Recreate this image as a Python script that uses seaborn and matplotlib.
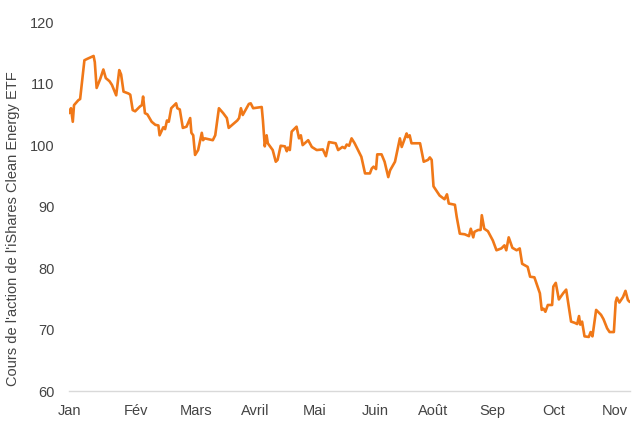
import numpy as np
import pandas as pd
import matplotlib
matplotlib.use("Agg")
import matplotlib.pyplot as plt
import seaborn as sns

# --- Data ---
# position in months from the start of January, closing price in USD
MONTH_POS = [
    0.00, 0.03, 0.06, 0.08, 0.15, 0.18, 0.25, 0.29, 0.40, 0.42, 0.45, 0.51, 0.56, 0.60,
    0.66, 0.70, 0.77, 0.82, 0.85, 0.89, 0.97, 1.00, 1.04, 1.08, 1.16, 1.19, 1.21, 1.24,
    1.28, 1.35, 1.41, 1.46, 1.48, 1.54, 1.57, 1.60, 1.63, 1.67, 1.75, 1.77, 1.81, 1.86,
    1.92, 1.98, 2.00, 2.03, 2.06, 2.11, 2.14, 2.17, 2.19, 2.22, 2.35, 2.39, 2.45, 2.52,
    2.58, 2.61, 2.75, 2.78, 2.81, 2.84, 2.94, 2.97, 3.01, 3.15, 3.17, 3.20, 3.23, 3.25,
    3.33, 3.38, 3.41, 3.46, 3.53, 3.56, 3.58, 3.61, 3.64, 3.72, 3.76, 3.79, 3.82, 3.91,
    3.97, 4.05, 4.15, 4.20, 4.25, 4.36, 4.40, 4.47, 4.51, 4.54, 4.58, 4.62, 4.67, 4.75,
    4.78, 4.84, 4.92, 4.95, 4.98, 5.02, 5.04, 5.11, 5.16, 5.22, 5.25, 5.33, 5.38, 5.41,
    5.44, 5.52, 5.54, 5.57, 5.60, 5.74, 5.80, 5.87, 5.90, 5.93, 5.96, 6.02, 6.06, 6.14,
    6.18, 6.21, 6.31, 6.34, 6.39, 6.47, 6.54, 6.57, 6.61, 6.63, 6.69, 6.73, 6.75, 6.79,
    6.85, 6.93, 6.99, 7.07, 7.12, 7.15, 7.19, 7.25, 7.32, 7.37, 7.41, 7.50, 7.54, 7.61,
    7.70, 7.73, 7.76, 7.79, 7.83, 7.90, 7.92, 7.96, 8.01, 8.08, 8.13, 8.21, 8.27, 8.31,
    8.34, 8.36, 8.39, 8.43, 8.50, 8.53, 8.56, 8.62, 8.70, 8.74, 8.80, 8.84, 8.91, 8.94,
    8.96, 9.00, 9.06, 9.10, 9.14, 9.17,
]
PRICE = [
    105.2, 106.0, 103.8, 106.5, 107.3, 107.5, 113.8, 114.0, 114.5, 113.5, 109.3, 110.8, 112.3, 110.9,
    110.4, 109.8, 108.1, 112.2, 111.5, 108.7, 108.4, 108.2, 105.7, 105.5, 106.3, 106.5, 107.9, 105.2,
    105.0, 103.8, 103.3, 103.2, 101.6, 102.9, 102.6, 104.0, 103.8, 106.0, 106.8, 106.0, 105.8, 102.8,
    103.0, 104.4, 102.0, 101.6, 98.4, 99.2, 100.6, 102.0, 100.8, 101.1, 100.8, 101.6, 106.0, 105.2,
    104.4, 102.8, 104.0, 104.4, 106.0, 104.9, 106.7, 106.8, 106.0, 106.2, 104.0, 99.8, 101.6, 100.3,
    99.2, 97.3, 97.6, 99.9, 99.8, 99.0, 99.6, 99.2, 102.2, 103.0, 101.1, 101.6, 100.0, 100.8,
    99.7, 99.2, 99.3, 98.2, 100.5, 100.3, 99.2, 99.7, 99.5, 100.1, 99.9, 101.1, 100.3, 98.7,
    98.1, 95.4, 95.4, 96.2, 96.5, 96.1, 98.5, 98.5, 97.3, 94.8, 95.9, 97.3, 99.7, 101.1,
    99.7, 101.9, 101.3, 101.6, 100.3, 100.3, 97.3, 97.6, 98.0, 97.6, 93.3, 92.4, 91.8, 91.2,
    92.0, 90.5, 90.3, 88.3, 85.6, 85.5, 85.2, 86.4, 85.0, 85.9, 86.2, 86.2, 88.6, 86.4,
    86.0, 84.5, 82.9, 83.2, 83.7, 82.9, 85.0, 83.3, 82.9, 83.2, 80.7, 80.2, 78.6, 78.5,
    75.9, 73.2, 73.4, 72.9, 74.0, 74.0, 77.0, 77.6, 74.9, 75.9, 76.5, 71.3, 71.1, 70.9,
    72.2, 70.8, 71.3, 68.9, 68.8, 69.6, 68.9, 73.2, 72.4, 71.7, 70.2, 69.6, 69.6, 74.5,
    75.2, 74.4, 75.3, 76.3, 74.8, 74.5,
]
MONTH_LABELS = ["Jan", "Fév", "Mars", "Avril", "Mai", "Juin", "Août", "Sep", "Oct", "Nov"]
LABEL_POS = [0.0, 1.10, 2.08, 3.04, 4.01, 5.01, 5.96, 6.92, 7.93, 8.92]
TICK_MARK_POS = [0.0, 0.98, 1.96, 2.94, 3.93, 4.91, 5.89, 6.87, 7.85, 8.84]
Y_TICKS = [60, 70, 80, 90, 100, 110, 120]
Y_LABEL = "Cours de l'action de l'iShares Clean Energy ETF"

df = pd.DataFrame({"mois": MONTH_POS, "cours": PRICE})

# --- Style ---
sns.set_style("white")
plt.rcParams["font.family"] = ["Liberation Sans", "DejaVu Sans"]
TEXT = "#444444"
AXIS = "#d9d9d9"
ORANGE = "#f07818"

fig = plt.figure(figsize=(6.4, 4.26), dpi=100)
ax = fig.add_axes([0.108, 0.082, 0.876, 0.866])

sns.lineplot(data=df, x="mois", y="cours", color=ORANGE, linewidth=1.9, ax=ax)

ax.set_xlim(0, 9.17)
ax.set_ylim(60, 120)
# labels and tick marks sit at slightly different places in the original
ax.set_xticks(LABEL_POS)
ax.set_xticklabels(MONTH_LABELS)
ax.set_xticks(TICK_MARK_POS, minor=True)
ax.set_yticks(Y_TICKS)
ax.set_xlabel("")
ax.set_ylabel(Y_LABEL, fontsize=10.5, color=TEXT)
ax.yaxis.set_label_coords(-0.087, 0.44)

for side in ["top", "right", "left"]:
    ax.spines[side].set_visible(False)
ax.spines["bottom"].set_color(AXIS)
ax.spines["bottom"].set_linewidth(1)

ax.tick_params(axis="x", which="major", length=0, labelcolor=TEXT, labelsize=10.5, pad=9)
ax.tick_params(axis="x", which="minor", colors=AXIS, length=4, width=1)
ax.tick_params(axis="y", length=0, labelcolor=TEXT, labelsize=10.5, pad=10.5)

fig.savefig("out.png", dpi=100)
